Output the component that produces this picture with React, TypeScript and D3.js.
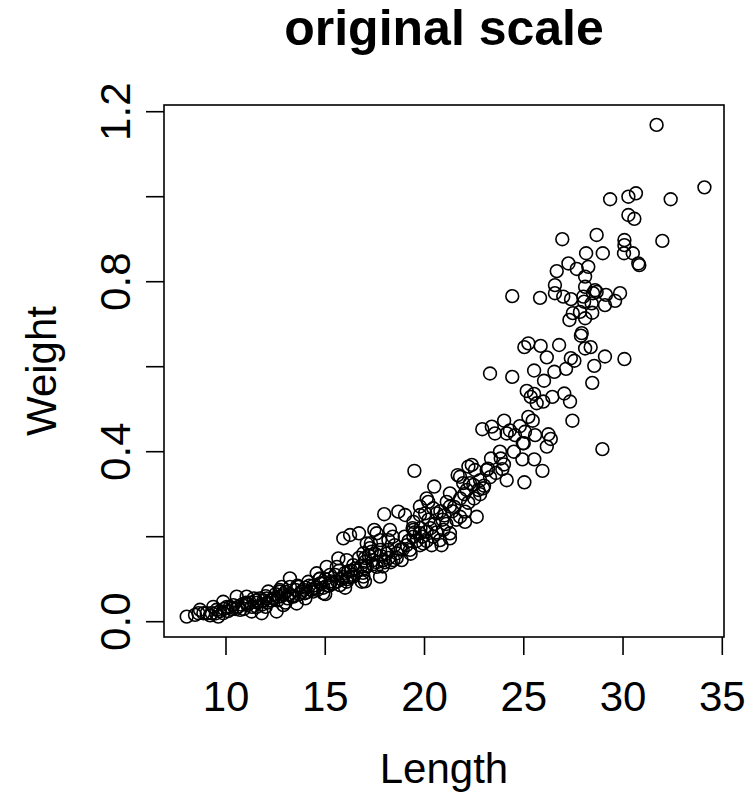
import React from "react";
import * as d3 from "d3";

const lengths = [
  31.69, 34.10, 29.35, 30.27, 30.65, 32.40, 30.27, 30.57, 26.94, 28.67,
  30.07, 30.07, 31.98, 28.14, 28.98, 30.05, 30.49, 30.77, 30.82, 27.25,
  27.67, 26.66, 28.25, 28.09, 28.09, 28.59, 28.67, 26.57, 26.57, 26.99,
  29.85, 24.42, 25.82, 27.38, 28.00, 28.49, 29.14, 29.60, 29.09, 28.42,
  28.04, 27.47, 27.30, 28.09, 28.45, 27.83, 27.92, 27.88, 25.03, 25.23,
  25.85, 26.78, 26.16, 27.37, 27.55, 28.09, 28.37, 29.09, 28.55, 30.07,
  25.52, 26.54, 27.13, 23.30, 24.42, 26.02, 28.45, 25.15, 25.35, 25.52,
  25.65, 25.98, 26.44, 27.04, 27.33, 25.23, 25.45, 27.45, 24.01, 22.91,
  23.39, 23.55, 24.14, 24.56, 25.06, 25.57, 26.24, 26.36, 26.16, 24.95,
  28.96, 23.35, 23.84, 24.93, 25.53, 25.94, 25.03, 23.92, 24.14, 19.49,
  20.49, 21.28, 22.21, 22.54, 23.13, 21.79, 22.29, 22.80, 22.71, 22.13,
  22.96, 21.95, 20.11, 21.67, 22.38, 22.46, 21.12, 20.19, 19.77, 20.44,
  20.03, 20.61, 21.28, 22.04, 22.63, 22.04, 21.79, 17.97, 18.68, 19.02,
  19.77, 19.44, 19.44, 19.77, 19.44, 20.11, 20.44, 20.95, 21.28, 20.78,
  19.94, 19.77, 20.36, 20.86, 21.28, 15.91, 16.25, 16.70, 17.47, 17.59,
  18.26, 17.76, 17.09, 17.25, 18.18, 16.92, 17.34, 17.76, 18.18, 18.60,
  18.85, 18.43, 17.92, 17.42, 19.27, 17.00, 17.59, 17.00, 16.41, 16.08,
  15.66, 15.58, 16.16, 16.92, 17.76, 16.41, 15.07, 15.24, 14.57, 14.74,
  13.22, 14.15, 14.74, 15.24, 15.74, 16.08, 16.84, 13.64, 13.22, 12.81,
  12.72, 12.13, 12.05, 12.63, 13.39, 13.98, 14.40, 14.90, 13.56, 12.89,
  12.55, 11.80, 11.55, 11.04, 11.04, 10.54, 10.37, 10.71, 11.29, 9.86,
  10.04, 9.53, 9.36, 9.86, 9.03, 8.86, 8.61, 8.44, 8.02, 8.69,
  9.28, 9.61,
  10.5, 10.8, 11.2, 11.5, 11.8, 12.0, 12.3, 12.5, 12.8, 13.0,
  13.2, 13.5, 13.8, 14.0, 14.2, 14.5, 14.8, 15.0, 15.3, 15.5,
  15.8, 16.0, 16.3, 16.5, 16.8, 17.0, 17.2, 17.5, 17.8, 18.0,
  18.2, 18.5, 19.0, 19.2, 19.8, 20.2, 20.5, 21.0, 21.5, 21.8,
  22.0, 22.5, 23.0, 23.3, 23.6, 24.0, 24.5, 25.0, 10.2, 11.0,
  11.7, 12.2, 13.3, 14.3, 15.2, 16.2, 18.8, 19.5, 20.8, 9.9,
  9.2, 9.5, 9.7, 10.1, 10.3, 10.6, 10.9, 11.1, 11.3, 11.6,
  11.9, 12.1, 12.4, 12.6, 12.9, 13.1, 13.4, 13.7, 13.9, 14.1,
  14.4, 14.6, 14.9, 15.1, 15.4, 15.6, 15.9, 16.1, 16.4, 16.6,
  16.9, 17.1, 17.4, 17.6, 17.9, 18.1, 18.3, 18.6, 18.9, 19.1,
  19.3, 19.6, 19.9, 20.1, 20.3, 20.6, 20.9, 21.1, 21.4, 21.6,
  22.2, 22.8, 23.2, 23.8, 24.3, 24.8, 12.0, 13.0, 14.0, 15.0,
  16.0, 17.0, 11.4, 12.7, 13.6, 14.7, 15.7, 16.7, 17.3, 18.4,
  19.4
];

const weights = [
  1.169, 1.022, 0.994, 1.000, 1.008, 0.994, 0.957, 0.948, 0.900, 0.910,
  0.898, 0.886, 0.896, 0.867, 0.867, 0.867, 0.867, 0.843, 0.839, 0.843,
  0.830, 0.825, 0.835, 0.812, 0.788, 0.780, 0.776, 0.792, 0.773, 0.765,
  0.773, 0.766, 0.762, 0.759, 0.765, 0.773, 0.769, 0.755, 0.745, 0.749,
  0.753, 0.726, 0.710, 0.714, 0.727, 0.729, 0.679, 0.673, 0.646, 0.655,
  0.649, 0.651, 0.622, 0.620, 0.614, 0.643, 0.646, 0.624, 0.602, 0.618,
  0.591, 0.588, 0.595, 0.584, 0.576, 0.567, 0.562, 0.543, 0.529, 0.536,
  0.514, 0.518, 0.529, 0.537, 0.518, 0.482, 0.473, 0.473, 0.473, 0.453,
  0.459, 0.443, 0.443, 0.439, 0.447, 0.439, 0.441, 0.430, 0.412, 0.420,
  0.406, 0.384, 0.384, 0.382, 0.382, 0.355, 0.328, 0.359, 0.333, 0.355,
  0.318, 0.302, 0.365, 0.357, 0.357, 0.341, 0.326, 0.333, 0.310, 0.310,
  0.314, 0.326, 0.290, 0.345, 0.369, 0.322, 0.282, 0.282, 0.271, 0.267,
  0.255, 0.255, 0.271, 0.259, 0.247, 0.235, 0.247, 0.253, 0.259, 0.251,
  0.251, 0.235, 0.216, 0.208, 0.200, 0.212, 0.200, 0.216, 0.208, 0.192,
  0.184, 0.180, 0.180, 0.180, 0.196, 0.196, 0.204, 0.208, 0.216, 0.208,
  0.216, 0.192, 0.184, 0.173, 0.192, 0.161, 0.165, 0.169, 0.169, 0.161,
  0.145, 0.145, 0.145, 0.145, 0.169, 0.141, 0.129, 0.126, 0.133, 0.145,
  0.149, 0.129, 0.118, 0.106, 0.106, 0.106, 0.129, 0.110, 0.114, 0.102,
  0.102, 0.094, 0.090, 0.090, 0.086, 0.094, 0.094, 0.082, 0.082, 0.082,
  0.071, 0.071, 0.055, 0.059, 0.059, 0.067, 0.071, 0.067, 0.043, 0.039,
  0.024, 0.020, 0.035, 0.059, 0.043, 0.059, 0.039, 0.028, 0.024, 0.047,
  0.035, 0.028, 0.035, 0.020, 0.020, 0.020, 0.020, 0.016, 0.012, 0.028,
  0.020, 0.012,
  0.030, 0.040, 0.045, 0.050, 0.040, 0.060, 0.050, 0.065, 0.060, 0.070,
  0.065, 0.075, 0.070, 0.080, 0.085, 0.080, 0.090, 0.100, 0.095, 0.110,
  0.100, 0.115, 0.120, 0.125, 0.130, 0.150, 0.155, 0.160, 0.155, 0.140,
  0.150, 0.180, 0.200, 0.190, 0.220, 0.240, 0.230, 0.250, 0.270, 0.290,
  0.300, 0.290, 0.320, 0.340, 0.350, 0.370, 0.400, 0.420, 0.035, 0.045,
  0.055, 0.050, 0.060, 0.075, 0.085, 0.105, 0.170, 0.210, 0.260, 0.030,
  0.015, 0.020, 0.025, 0.025, 0.030, 0.035, 0.030, 0.040, 0.035, 0.045,
  0.050, 0.045, 0.055, 0.050, 0.065, 0.055, 0.060, 0.065, 0.075, 0.070,
  0.085, 0.075, 0.080, 0.085, 0.090, 0.095, 0.105, 0.100, 0.110, 0.120,
  0.115, 0.130, 0.135, 0.140, 0.130, 0.160, 0.140, 0.150, 0.170, 0.180,
  0.160, 0.190, 0.200, 0.190, 0.220, 0.210, 0.240, 0.230, 0.260, 0.240,
  0.280, 0.300, 0.360, 0.400, 0.450, 0.460, 0.035, 0.045, 0.055, 0.065,
  0.080, 0.095, 0.055, 0.075, 0.085, 0.100, 0.120, 0.150, 0.185, 0.200,
  0.220
];

const xTicks = [10, 15, 20, 25, 30, 35];
const yTicks = [0, 0.2, 0.4, 0.6, 0.8, 1.0, 1.2];
const yTickLabels = [0, 0.4, 0.8, 1.2];

const title = "original scale";
const xLabel = "Length";
const yLabel = "Weight";

export default function App() {
  const W = 753;
  const H = 796;
  const left = 164, right = 724, top = 105, bottom = 637;
  const x = d3.scaleLinear().domain([6.877, 35.086]).range([left, right]);
  const y = d3.scaleLinear().domain([-0.036, 1.2158]).range([bottom, top]);
  const font = "'Liberation Sans', Arial, Helvetica, sans-serif";
  const tick = 18;
  const fs = 42;

  return (
    <svg
      width={W}
      height={H}
      viewBox={`0 0 ${W} ${H}`}
      style={{ position: "absolute", left: 0, top: 0, background: "#fff" }}
      fontFamily={font}
    >
      <rect x={0} y={0} width={W} height={H} fill="#fff" />
      <text x={(left + right) / 2} y={45} textAnchor="middle" fontSize={50} fontWeight="bold">
        {title}
      </text>
      {lengths.map((L, i) => (
        <circle key={i} cx={x(L)} cy={y(weights[i])} r={6.4} fill="none" stroke="#000" strokeWidth={1.6} />
      ))}
      <rect x={left} y={top} width={right - left} height={bottom - top} fill="none" stroke="#000" strokeWidth={1.6} />
      {xTicks.map((t) => (
        <g key={"x" + t}>
          <line x1={x(t)} x2={x(t)} y1={bottom} y2={bottom + tick} stroke="#000" strokeWidth={1.6} />
          <text x={x(t)} y={711} textAnchor="middle" fontSize={fs}>
            {t}
          </text>
        </g>
      ))}
      {yTicks.map((t) => (
        <line key={"y" + t} x1={left - tick} x2={left} y1={y(t)} y2={y(t)} stroke="#000" strokeWidth={1.6} />
      ))}
      {yTickLabels.map((t) => (
        <text
          key={"yl" + t}
          transform={`translate(130,${y(t)}) rotate(-90)`}
          textAnchor="middle"
          fontSize={fs}
        >
          {d3.format(".1f")(t)}
        </text>
      ))}
      <text x={(left + right) / 2} y={783} textAnchor="middle" fontSize={fs}>
        {xLabel}
      </text>
      <text
        transform={`translate(56,${(top + bottom) / 2}) rotate(-90)`}
        textAnchor="middle"
        fontSize={fs}
      >
        {yLabel}
      </text>
    </svg>
  );
}
